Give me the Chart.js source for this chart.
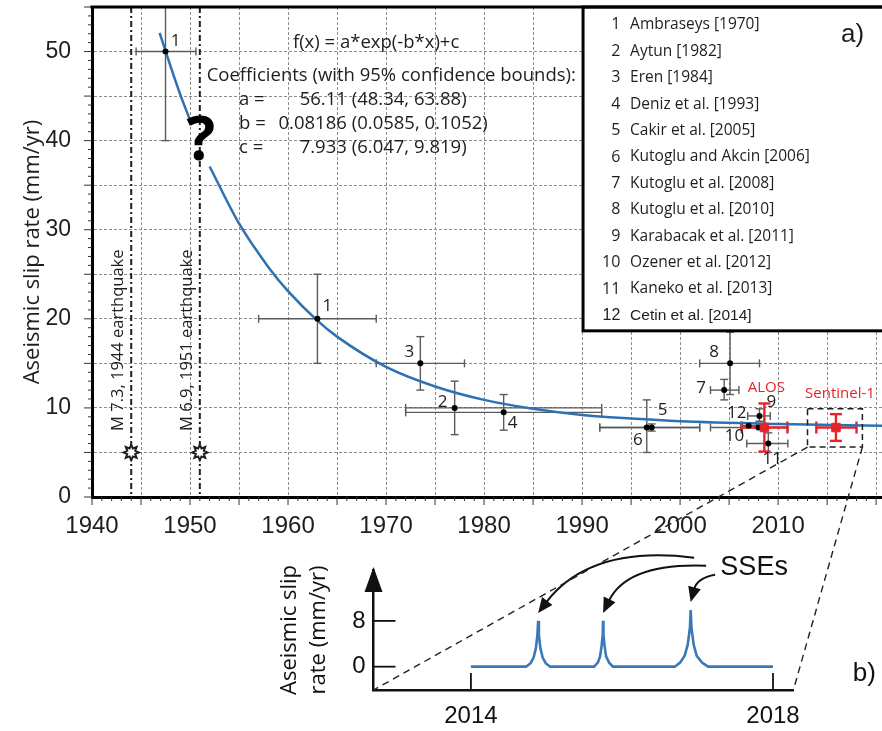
<!DOCTYPE html>
<html>
<head>
<meta charset="utf-8">
<title>Aseismic slip rate</title>
<script src="https://cdn.jsdelivr.net/npm/chart.js@4.4.1/dist/chart.umd.min.js"></script>
<style>
  html, body { margin: 0; padding: 0; background: #fff; }
  #wrap { position: relative; width: 882px; height: 731px; overflow: hidden; }
  #wrap canvas { position: absolute; left: 0; top: 0; }
</style>
</head>
<body>
<div id="wrap">
  <canvas id="slipChart" width="882" height="731"></canvas>
  <canvas id="sseChart" width="882" height="731"></canvas>
</div>
<script>
// fitted curve (broken where the "?" sits)
const fitYearsA = [1946.9, 1948, 1949, 1950];
const fitRatesA = [52.1, 48.4, 45.2, 42.3];
const fitYearsB = [1952, 1955, 1958, 1960, 1963, 1965, 1970, 1975, 1980, 1985, 1990, 1995, 2000, 2010, 2020.6];
const fitRatesB = [37.1, 30.7, 25.8, 23.1, 19.8, 18.0, 14.6, 12.4, 10.9, 9.9, 9.2, 8.8, 8.5, 8.2, 8.0];

// published estimates, label = number in the reference list
const studyLabels = ['1', '1', '2', '3', '4', '5', '6', '7', '8', '9', '10', '11', '12'];
const studyYears  = [1947.5, 1963, 1977, 1973.5, 1982, 1997.1, 1996.6, 2004.5, 2005.1, 2008.1, 2008.0, 2009.0, 2007.0];
const studyRates  = [50, 20, 10, 15, 9.5, 7.8, 7.8, 12, 15, 9.1, 7.8, 6.0, 8.0];
const studyYearLo = [1944.5, 1957, 1972, 1969, 1972, 1991.8, 1991.8, 2003.1, 2002.0, 2006.9, 2003.1, 2006.8, 2006.2];
const studyYearHi = [1950.6, 1969, 1992, 1978, 1992, 2002.0, 2002.0, 2006.0, 2008.1, 2009.2, 2011.0, 2011.0, 2007.8];
const studyRateLo = [40, 15, 7, 12, 7.5, 7.4, 5.0, 10.9, 11.5, 8.5, 7.8, 5.0, 8.0];
const studyRateHi = [60, 25, 13, 18, 11.5, 8.2, 10.9, 13.2, 18.5, 9.9, 7.8, 7.2, 8.0];
const labelDx = [10, 10, -12, -11, 9, 11, -9, -23, -16, 12, -24, 4, -12];
const labelDy = [-10, -13, -6, -11, 11, -17, 13, -2, -11, -14, 9, 16, -13];

// InSAR estimates (this study)
const insarLabels = ['ALOS', 'Sentinel-1'];
const insarYears  = [2008.6, 2015.9];
const insarRates  = [7.8, 7.8];
const insarYearLo = [2006.3, 2013.9];
const insarYearHi = [2010.95, 2018.0];
const insarRateLo = [5.1, 6.3];
const insarRateHi = [10.5, 9.3];

// earthquakes
const quakeYears  = [1944, 1951];
const quakeLabels = ['M 7.3, 1944 earthquake', 'M 6.9, 1951 earthquake'];

// zoom box around Sentinel-1
const boxYears = [2013.0, 2018.6];
const boxRates = [5.6, 9.9];

const legendNumbers = ['1', '2', '3', '4', '5', '6', '7', '8', '9', '10', '11', '12'];
const legendRefs = ['Ambraseys [1970]', 'Aytun [1982]', 'Eren [1984]', 'Deniz et al. [1993]',
  'Cakir et al. [2005]', 'Kutoglu and Akcin [2006]', 'Kutoglu et al. [2008]', 'Kutoglu et al. [2010]',
  'Karabacak et al. [2011]', 'Ozener et al. [2012]', 'Kaneko et al. [2013]', 'Cetin et al. [2014]'];

const coefNames  = ['a =', 'b =', 'c ='];
const coefValues = ['56.11', '0.08186', '7.933'];
const coefBounds = ['(48.34, 63.88)', '(0.0585, 0.1052)', '(6.047, 9.819)'];

const yearTickLabels = [1940, 1950, 1960, 1970, 1980, 1990, 2000, 2010];
const rateTickLabels = [0, 10, 20, 30, 40, 50];

// panel b: slow slip events
const sseYears = [2014.0, 2014.73, 2014.79, 2014.83, 2014.86, 2014.88, 2014.89, 2014.90, 2014.92, 2014.95, 2014.99, 2015.05,
  2015.63, 2015.68, 2015.71, 2015.73, 2015.745, 2015.75, 2015.755, 2015.77, 2015.79, 2015.83, 2015.88,
  2016.70, 2016.77, 2016.83, 2016.87, 2016.90, 2016.91, 2016.92, 2016.95, 2016.99, 2017.06, 2017.14, 2018.0];
const sseRates = [0, 0, 0.6, 1.6, 3.2, 5.5, 8, 5.5, 3.2, 1.6, 0.6, 0,
  0, 0.7, 1.8, 3.6, 5.6, 8, 5.6, 3.6, 1.8, 0.7, 0,
  0, 0.7, 1.9, 3.8, 6.8, 9.9, 6.8, 3.8, 1.9, 0.7, 0, 0];
const sseTickYears = [2014, 2018];
const sseTickRates = [0, 8];

const SANS = '"Open Sans", "Noto Sans", sans-serif';
const HELV = '"Liberation Sans", Arial, sans-serif';
const blue = '#2e71b2';
const red = '#e8222b';
const ink = '#1e1e1e';

function strokeLine(ctx, x1, y1, x2, y2) {
  ctx.beginPath(); ctx.moveTo(x1, y1); ctx.lineTo(x2, y2); ctx.stroke();
}

function text(ctx, str, x, y, font, align, color) {
  ctx.font = font;
  ctx.textAlign = align || 'left';
  ctx.textBaseline = 'middle';
  ctx.fillStyle = color || ink;
  ctx.fillText(str, x, y);
}

function drawErrorBars(chart, years, rates, yearLo, yearHi, rateLo, rateHi, color, width, cap) {
  const {ctx, scales: {x, y}} = chart;
  ctx.strokeStyle = color;
  ctx.lineWidth = width;
  years.forEach((yr, i) => {
    const px = x.getPixelForValue(yr), py = y.getPixelForValue(rates[i]);
    const x0 = x.getPixelForValue(yearLo[i]), x1 = x.getPixelForValue(yearHi[i]);
    const y0 = y.getPixelForValue(rateLo[i]), y1 = y.getPixelForValue(rateHi[i]);
    if (x1 - x0 > 1) {
      strokeLine(ctx, x0, py, x1, py);
      strokeLine(ctx, x0, py - cap, x0, py + cap);
      strokeLine(ctx, x1, py - cap, x1, py + cap);
    }
    if (y0 - y1 > 1) {
      strokeLine(ctx, px, y0, px, y1);
      strokeLine(ctx, px - cap, y0, px + cap, y0);
      strokeLine(ctx, px - cap, y1, px + cap, y1);
    }
  });
}

function drawStar(ctx, cx, cy) {
  ctx.beginPath();
  for (let k = 0; k < 16; k++) {
    const r = k % 2 ? 4.3 : 7.6;
    const ang = k * Math.PI / 8 - Math.PI / 2;
    const px = cx + r * Math.cos(ang), py = cy + r * Math.sin(ang);
    if (k === 0) ctx.moveTo(px, py); else ctx.lineTo(px, py);
  }
  ctx.closePath();
  ctx.fillStyle = '#fff';
  ctx.fill();
  ctx.lineWidth = 2;
  ctx.strokeStyle = ink;
  ctx.stroke();
}

const slipDecor = {
  id: 'slipDecor',
  beforeDraw(chart) {
    const {ctx} = chart;
    ctx.save();
    ctx.fillStyle = '#fff';
    ctx.fillRect(0, 0, chart.width, chart.height);
    ctx.restore();
  },
  beforeDatasetsDraw(chart) {
    const {ctx, chartArea: a, scales: {x, y}} = chart;
    ctx.save();
    ctx.beginPath();
    ctx.rect(a.left, a.top, a.right - a.left, a.bottom - a.top);
    ctx.clip();

    // earthquake lines, labels and symbols
    ctx.strokeStyle = ink;
    ctx.lineWidth = 2;
    ctx.setLineDash([6, 3, 2, 3]);
    quakeYears.forEach(q => strokeLine(ctx, x.getPixelForValue(q), a.top, x.getPixelForValue(q), a.bottom));
    ctx.setLineDash([]);
    quakeYears.forEach((q, i) => {
      ctx.save();
      ctx.translate(x.getPixelForValue(q) - 13, y.getPixelForValue(17.6));
      ctx.rotate(-Math.PI / 2);
      text(ctx, quakeLabels[i], 0, 0, '16.5px ' + SANS, 'center');
      ctx.restore();
      drawStar(ctx, x.getPixelForValue(q), y.getPixelForValue(5));
    });

    drawErrorBars(chart, studyYears, studyRates, studyYearLo, studyYearHi, studyRateLo, studyRateHi, '#5b5b5b', 1.4, 4);
    drawErrorBars(chart, insarYears, insarRates, insarYearLo, insarYearHi, insarRateLo, insarRateHi, red, 2.4, 6);
    ctx.restore();
  },
  afterDatasetsDraw(chart) {
    const {ctx, chartArea: a, scales: {x, y}} = chart;
    ctx.save();

    // dashed box around the Sentinel-1 estimate
    ctx.strokeStyle = ink;
    ctx.lineWidth = 1.5;
    ctx.setLineDash([6, 4]);
    const bx0 = x.getPixelForValue(boxYears[0]), bx1 = x.getPixelForValue(boxYears[1]);
    const by0 = y.getPixelForValue(boxRates[0]), by1 = y.getPixelForValue(boxRates[1]);
    ctx.strokeRect(bx0, by1, bx1 - bx0, by0 - by1);
    ctx.setLineDash([]);

    // point numbers
    studyLabels.forEach((lab, i) => {
      text(ctx, lab, x.getPixelForValue(studyYears[i]) + labelDx[i], y.getPixelForValue(studyRates[i]) + labelDy[i], '17px ' + SANS, 'center');
    });
    text(ctx, insarLabels[0], x.getPixelForValue(insarYears[0]) + 2, y.getPixelForValue(insarRates[0]) - 40, '15px ' + SANS, 'center', red);
    text(ctx, insarLabels[1], x.getPixelForValue(insarYears[1]) + 4, y.getPixelForValue(insarRates[1]) - 34, '15px ' + SANS, 'center', red);

    // fit equation and coefficients
    text(ctx, 'f(x) = a*exp(-b*x)+c', x.getPixelForValue(1960.5), y.getPixelForValue(51.0), '18.5px ' + SANS);
    text(ctx, 'Coefficients (with 95% confidence bounds):', x.getPixelForValue(1951.7), y.getPixelForValue(47.3), '18.5px ' + SANS);
    coefNames.forEach((n, i) => {
      const py = y.getPixelForValue(44.6 - i * 2.7);
      text(ctx, n, x.getPixelForValue(1955.0), py, '18.5px ' + SANS);
      text(ctx, coefValues[i], x.getPixelForValue(1966.0), py, '18.5px ' + SANS, 'right');
      text(ctx, coefBounds[i], x.getPixelForValue(1966.5), py, '18.5px ' + SANS);
    });
    text(ctx, '?', x.getPixelForValue(1951.1), y.getPixelForValue(39.8), 'bold 60px ' + SANS, 'center', '#000');

    // reference list box
    const lx = x.getPixelForValue(1990.1), lb = y.getPixelForValue(18.65);
    ctx.fillStyle = '#fff';
    ctx.fillRect(lx, a.top, a.right - lx + 5, lb - a.top);
    ctx.strokeStyle = '#000';
    ctx.lineWidth = 3;
    ctx.strokeRect(lx, a.top, a.right - lx + 10, lb - a.top);
    legendRefs.forEach((ref, i) => {
      const py = y.getPixelForValue(53.0 - i * 2.966);
      const last = i === legendRefs.length - 1;
      text(ctx, legendNumbers[i], x.getPixelForValue(1993.9), py, (last ? '16px ' + HELV : '16px ' + SANS), 'right');
      text(ctx, ref, x.getPixelForValue(1994.9), py, (last ? '15.5px ' + HELV : '15.5px ' + SANS));
    });
    text(ctx, 'a)', x.getPixelForValue(2017.6), y.getPixelForValue(51.9), '26px ' + HELV, 'center');
    ctx.restore();
  },
  afterDraw(chart) {
    const {ctx, chartArea: a, scales: {x, y}} = chart;
    ctx.save();
    ctx.strokeStyle = '#333';
    ctx.lineWidth = 1;
    x.ticks.forEach(t => {
      const px = x.getPixelForValue(t.value);
      strokeLine(ctx, px, a.bottom, px, a.bottom + (t.value % 5 === 0 ? 8 : 4));
    });
    y.ticks.forEach(t => {
      const py = y.getPixelForValue(t.value);
      strokeLine(ctx, a.left, py, a.left - (t.value % 5 === 0 ? 8 : 4), py);
    });
    ctx.strokeStyle = '#000';
    ctx.lineWidth = 3;
    strokeLine(ctx, a.left - 1.5, a.top, a.right, a.top);
    ctx.restore();
  }
};

const everyYear = [];
for (let v = 1940; v <= 2020; v++) everyYear.push(v);
const everyRate = [];
for (let v = 0; v <= 55; v++) everyRate.push(v);

const slipChart = new Chart(document.getElementById('slipChart'), {
  type: 'scatter',
  data: {
    datasets: [
      { data: insarYears.map((v, i) => ({x: v, y: insarRates[i]})), pointStyle: 'rect', pointRadius: 6,
        backgroundColor: red, borderColor: red, borderWidth: 1, order: 0 },
      { data: studyYears.map((v, i) => ({x: v, y: studyRates[i]})), pointRadius: 3,
        backgroundColor: '#000', borderColor: '#000', borderWidth: 0, order: 1 },
      { data: fitYearsA.map((v, i) => ({x: v, y: fitRatesA[i]})), showLine: true, borderColor: blue,
        borderWidth: 2.5, pointRadius: 0, cubicInterpolationMode: 'monotone', order: 2 },
      { data: fitYearsB.map((v, i) => ({x: v, y: fitRatesB[i]})), showLine: true, borderColor: blue,
        borderWidth: 2.5, pointRadius: 0, cubicInterpolationMode: 'monotone', order: 2 }
    ]
  },
  options: {
    responsive: false,
    animation: false,
    events: [],
    layout: { autoPadding: false, padding: { left: 0, top: 7, right: 0, bottom: 189 } },
    plugins: { legend: { display: false }, tooltip: { enabled: false } },
    scales: {
      x: {
        type: 'linear', min: 1940, max: 2020.6,
        afterBuildTicks: s => { s.ticks = everyYear.map(v => ({value: v})); },
        afterFit: s => { s.height = 45; s.paddingLeft = 0; s.paddingRight = 0; },
        grid: { color: c => (c.tick && c.tick.value % 5 === 0 ? '#8c8c8c' : 'transparent'), lineWidth: 1, drawTicks: false },
        border: { color: '#000', width: 3, dash: [3, 2] },
        ticks: { autoSkip: false, maxRotation: 0, padding: 15, color: ink, font: { family: HELV, size: 24 },
          callback: v => (yearTickLabels.includes(v) ? String(v) : '') }
      },
      y: {
        type: 'linear', min: 0, max: 55,
        afterBuildTicks: s => { s.ticks = everyRate.map(v => ({value: v})); },
        afterFit: s => { s.width = 92; s.paddingTop = 0; s.paddingBottom = 0; },
        grid: { color: c => (c.tick && c.tick.value % 5 === 0 ? '#8c8c8c' : 'transparent'), lineWidth: 1, drawTicks: false },
        border: { color: '#000', width: 3, dash: [3, 2] },
        ticks: { autoSkip: false, padding: 21, color: ink, font: { family: HELV, size: 23 },
          callback: v => (rateTickLabels.includes(v) ? String(v) : '') },
        title: { display: true, text: 'Aseismic slip rate (mm/yr)', color: ink,
          font: { family: SANS, size: 22 }, padding: { top: 20, bottom: 0 } }
      }
    }
  },
  plugins: [slipDecor]
});

const sseDecor = {
  id: 'sseDecor',
  afterDraw(chart) {
    const {ctx, chartArea: a, scales: {x, y}} = chart;
    ctx.save();
    // arrow head on the rate axis
    ctx.fillStyle = '#111';
    ctx.beginPath();
    ctx.moveTo(a.left, a.top - 3);
    ctx.lineTo(a.left - 9, a.top + 22);
    ctx.lineTo(a.left + 9, a.top + 22);
    ctx.closePath();
    ctx.fill();

    // inner ticks
    ctx.strokeStyle = '#111';
    ctx.lineWidth = 1.8;
    sseTickRates.forEach(v => strokeLine(ctx, a.left, y.getPixelForValue(v), a.left + 22, y.getPixelForValue(v)));
    sseTickYears.forEach(v => strokeLine(ctx, x.getPixelForValue(v), a.bottom, x.getPixelForValue(v), a.bottom - 17));

    // SSEs label with arrows to each peak
    const tx = x.getPixelForValue(2017.75), ty = y.getPixelForValue(17.3);
    text(ctx, 'SSEs', tx, ty, '27px ' + HELV, 'center', '#111');
    const tails = [[-60, -10], [-48, -2], [-39, 7]];
    const bends = [[-104, -13], [-79, -3], [-18, 3]];
    const peaks = [];
    sseRates.forEach((r, i) => {
      if (i > 0 && i < sseRates.length - 1 && r > sseRates[i - 1] && r > sseRates[i + 1]) peaks.push(i);
    });
    ctx.lineWidth = 2;
    ctx.strokeStyle = '#111';
    peaks.forEach((pi, k) => {
      const tipX = x.getPixelForValue(sseYears[pi]), tipY = y.getPixelForValue(sseRates[pi]) - 8;
      const sx = tx + tails[k][0], sy = ty + tails[k][1];
      const cx = sx + bends[k][0], cy = sy + bends[k][1];
      const ang = Math.atan2(tipY - cy, tipX - cx);
      const bx = tipX - 13 * Math.cos(ang), by = tipY - 13 * Math.sin(ang);
      ctx.beginPath();
      ctx.moveTo(sx, sy);
      ctx.quadraticCurveTo(cx, cy, bx, by);
      ctx.stroke();
      ctx.beginPath();
      ctx.moveTo(tipX, tipY);
      ctx.lineTo(tipX - 15 * Math.cos(ang) + 6.5 * Math.sin(ang), tipY - 15 * Math.sin(ang) - 6.5 * Math.cos(ang));
      ctx.lineTo(tipX - 15 * Math.cos(ang) - 6.5 * Math.sin(ang), tipY - 15 * Math.sin(ang) + 6.5 * Math.cos(ang));
      ctx.closePath();
      ctx.fillStyle = '#111';
      ctx.fill();
    });

    text(ctx, 'b)', a.right + 71, a.bottom - 16, '26px ' + HELV, 'center', '#111');

    // dashed lines from the zoom box down to panel b
    const sx = slipChart.scales.x, sy = slipChart.scales.y;
    ctx.strokeStyle = '#222';
    ctx.lineWidth = 1.4;
    ctx.setLineDash([7, 5]);
    strokeLine(ctx, sx.getPixelForValue(boxYears[0]), sy.getPixelForValue(boxRates[0]), a.left, a.bottom);
    strokeLine(ctx, sx.getPixelForValue(boxYears[1]), sy.getPixelForValue(boxRates[0]), a.right, a.bottom);
    ctx.restore();
  }
};

const sseChart = new Chart(document.getElementById('sseChart'), {
  type: 'scatter',
  data: {
    datasets: [{ data: sseYears.map((v, i) => ({x: v, y: sseRates[i]})), showLine: true, borderColor: '#3a79b6',
      borderWidth: 2.6, pointRadius: 0, tension: 0 }]
  },
  options: {
    responsive: false,
    animation: false,
    events: [],
    layout: { padding: { left: 273.5, top: 570, right: 88.6, bottom: 0 } },
    plugins: { legend: { display: false }, tooltip: { enabled: false } },
    scales: {
      x: {
        type: 'linear', min: 2012.71, max: 2018.27,
        afterBuildTicks: s => { s.ticks = sseTickYears.map(v => ({value: v})); },
        afterFit: s => { s.height = 41; },
        grid: { display: false, drawTicks: false },
        border: { color: '#111', width: 2.5 },
        ticks: { autoSkip: false, maxRotation: 0, padding: 12, color: '#111', font: { family: HELV, size: 24 },
          callback: v => String(v) }
      },
      y: {
        type: 'linear', min: -4.08, max: 16.9,
        afterBuildTicks: s => { s.ticks = sseTickRates.map(v => ({value: v})); },
        afterFit: s => { s.width = 100; },
        grid: { display: false, drawTicks: false },
        border: { color: '#111', width: 2.5 },
        ticks: { padding: 8, color: '#111', font: { family: HELV, size: 24 }, callback: v => String(v) },
        title: { display: true, text: ['Aseismic slip', 'rate (mm/yr)'], color: '#111',
          font: { family: SANS, size: 22, lineHeight: 1.32 }, padding: { top: 1.5, bottom: 0 } }
      }
    }
  },
  plugins: [sseDecor]
});
</script>
</body>
</html>
